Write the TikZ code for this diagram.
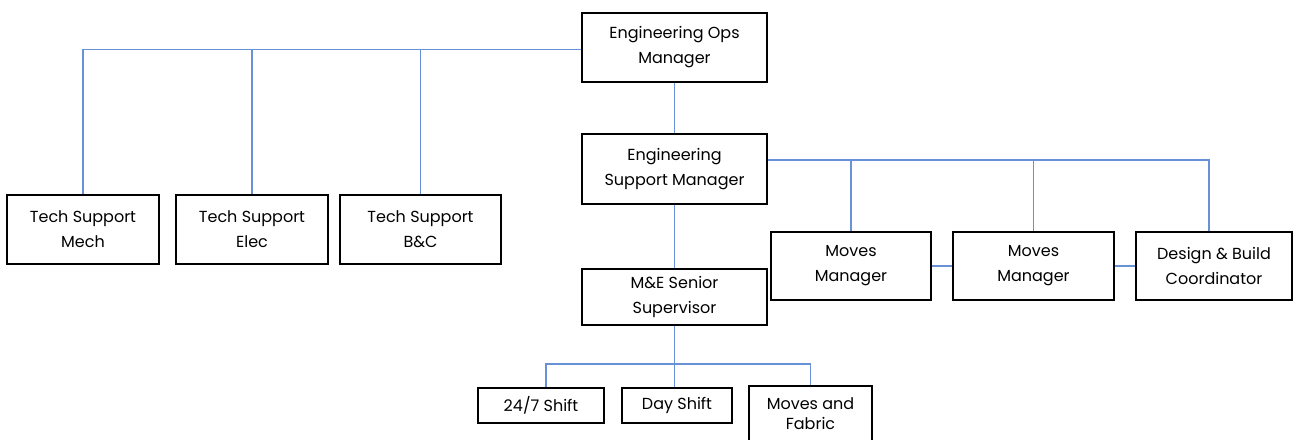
\documentclass[tikz,border=0pt]{standalone}
\usepackage{fontspec}
\setmainfont{Poppins}
\definecolor{lineblue}{RGB}{105,145,215}
\begin{document}
\begin{tikzpicture}[x=0.5pt,y=-0.5pt,
  box/.style={draw=black, line width=1pt, align=center, inner sep=0pt,
    font=\fontsize{8}{12.5}\selectfont, fill=white},
  conn/.style={draw=lineblue, line width=0.6pt}]
\clip (0,0) rectangle (1293,439);
\fill[white] (0,0) rectangle (1293,439);
% nodes
\node[box, minimum width=92.5pt, minimum height=34.5pt] (ops) at (674.5,47.5) {Engineering Ops\\Manager};
\node[box, minimum width=92.5pt, minimum height=35pt] (sup) at (674.5,169) {Engineering\\Support Manager};
\node[box, minimum width=76pt, minimum height=34.5pt] (mech) at (83,229.5) {Tech Support\\Mech};
\node[box, minimum width=76pt, minimum height=34.5pt] (elec) at (252,229.5) {Tech Support\\Elec};
\node[box, minimum width=80.5pt, minimum height=34.5pt] (bc) at (420.5,229.5) {Tech Support\\B\&C};
\node[box, minimum width=80pt, minimum height=34pt] (mv1) at (851,266) {Moves\\Manager};
\node[box, minimum width=80.5pt, minimum height=34pt] (mv2) at (1033.5,266) {Moves\\Manager};
\node[box, minimum width=78pt, minimum height=34pt] (db) at (1214,266) {Design \& Build\\Coordinator};
\node[box, minimum width=92.5pt, minimum height=28pt] (me) at (674.5,297) {M\&E Senior\\Supervisor};
\node[box, minimum width=63pt, minimum height=17.5pt] (s247) at (541,405.5) {24/7 Shift};
\node[box, minimum width=55pt, minimum height=17.5pt] (day) at (677,405.5) {Day Shift};
\node[box, minimum width=61.5pt, minimum height=28pt, font=\fontsize{8}{10}\selectfont] (mf) at (810.5,414) {Moves and\\Fabric};
% coordinates
\coordinate (opsl) at ([yshift=-1pt]ops.west);
\coordinate (supr) at ([yshift=4.5pt]sup.east);
\coordinate (mebus) at (674.5,364);
% connectors
\draw[conn] (opsl) -| (mech.north);
\draw[conn] (elec.north) -- (elec.north |- opsl);
\draw[conn] (bc.north) -- (bc.north |- opsl);
\draw[conn] (ops.south) -- (sup.north);
\draw[conn] (supr) -| ([xshift=-2.5pt]db.north);
\draw[conn] (mv1.north) -- (mv1.north |- supr);
\draw[conn] (mv2.north) -- (mv2.north |- supr);
\draw[conn] (mv1.east) -- (mv2.west);
\draw[conn] (mv2.east) -- (db.west);
\draw[conn] (sup.south) -- (me.north);
\draw[conn] (me.south) -- (mebus);
\draw[conn] ([xshift=2.5pt]s247.north) |- (mebus) -| (mf.north);
\draw[conn] (mebus) -- (mebus |- day.north);
\end{tikzpicture}
\end{document}
